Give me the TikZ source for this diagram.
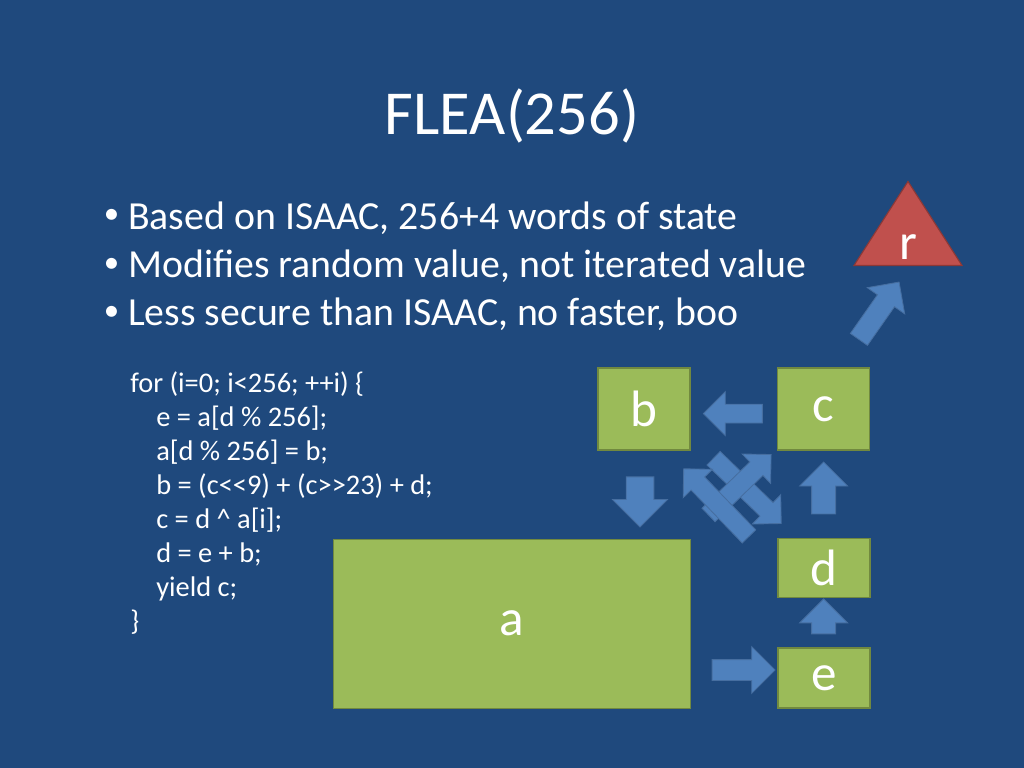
\documentclass[tikz,border=0pt]{standalone}
\usepackage{fontspec}
\setmainfont[Ligatures=TeXOff]{Carlito}
\usetikzlibrary{shapes.geometric,shapes.arrows}

\definecolor{slideblue}{RGB}{31,73,125}
\definecolor{reggreen}{RGB}{155,187,89}
\definecolor{regline}{RGB}{113,137,63}
\definecolor{flowblue}{RGB}{79,129,189}
\definecolor{flowline}{RGB}{70,110,160}
\definecolor{outred}{RGB}{192,80,77}
\definecolor{outline}{RGB}{140,56,54}

\begin{document}
\begin{tikzpicture}[
  ttl/.style={font=\fontsize{44.5}{53}\selectfont, text=white, inner sep=0pt, anchor=base},
  blt/.style={font=\fontsize{28.3}{34}\selectfont, text=white, inner sep=0pt, anchor=base west},
  dot/.style={font=\fontsize{22}{26}\selectfont, text=white, inner sep=0pt},
  code/.style={font=\fontsize{20.2}{24}\selectfont, text=white, inner sep=0pt, anchor=base west},
  reg/.style={rectangle, draw=regline, fill=reggreen, line width=0.8pt, text=white, font=\fontsize{36.4}{44}\selectfont, inner sep=0pt},
  outv/.style={isosceles triangle, shape border rotate=90, isosceles triangle stretches, draw=outline, fill=outred, line width=0.8pt, minimum width=2.7cm, minimum height=2.1cm, inner sep=0pt, anchor=apex},
  flow/.style={single arrow, draw=flowline, fill=flowblue, line width=0.6pt, inner xsep=0pt, single arrow head indent=0pt}
]
\fill[slideblue] (0,0) rectangle (25.6,-19.2);
\useasboundingbox (0,0) rectangle (25.6,-19.2);

\node[ttl] (title) at (12.8,-3.375) {FLEA(256)};

\node[dot] (dot1) at (2.79,-5.417) {•};
\node[dot] (dot2) at (2.79,-6.625) {•};
\node[dot] (dot3) at (2.79,-7.833) {•};
\node[blt] (pt1) at (3.2,-5.75) {Based on ISAAC, 256+4 words of state};
\node[blt] (pt2) at (3.2,-6.95) {Modifies random value, not iterated value};
\node[blt] (pt3) at (3.2,-8.125) {Less secure than ISAAC, no faster, boo};

\node[code] (ln1) at (3.25,-9.8) {for (i=0; i<256; ++i) \{};
\node[code] (ln2) at (3.9,-10.65) {e = a[d \% 256];};
\node[code] (ln3) at (3.9,-11.5) {a[d \% 256] = b;};
\node[code] (ln4) at (3.9,-12.35) {b = (c<\kern0pt<9) + (c>\kern0pt>23) + d;};
\node[code] (ln5) at (3.9,-13.2) {c = d \^{} a[i];};
\node[code] (ln6) at (3.9,-14.05) {d = e + b;};
\node[code] (ln7) at (3.9,-14.9) {yield c;};
\node[code] (ln8) at (3.25,-15.75) {\}};

\node[reg, minimum width=8.925cm, minimum height=4.225cm] (a) at (12.79,-15.59) {a};
\node[reg, minimum width=2.3cm, minimum height=2.05cm] (b) at (16.1,-10.225) {b};
\node[reg, minimum width=2.3cm, minimum height=2.05cm] (c) at (20.59,-10.225) {c};
\node[reg, minimum width=2.3cm, minimum height=1.475cm] (d) at (20.6,-14.19) {d};
\node[reg, minimum width=2.3cm, minimum height=1.5cm] (e) at (20.6,-16.95) {e};

\node[outv] (rtri) at (22.7,-4.5) {};
\node[font=\fontsize{36.4}{44}\selectfont, text=white, inner sep=0pt, anchor=base] (r) at (22.7,-6.5) {r};

\node[flow, rotate=180, minimum height=1.475cm, inner ysep=0.225cm, single arrow head extend=0.3125cm] (cb) at (18.44,-10.34) {};
\node[flow, rotate=-90, minimum height=1.25cm, inner ysep=0.335cm, single arrow head extend=0.34cm] (ba) at (16.0,-12.375) {};
\node[flow, rotate=90, minimum height=1.3cm, inner ysep=0.29cm, single arrow head extend=0.3cm] (dc) at (20.59,-12.35) {};
\node[flow, rotate=90, minimum height=0.875cm, inner ysep=0.29cm, single arrow head extend=0.3cm] (ed) at (20.59,-15.56) {};
\node[flow, minimum height=1.575cm, inner ysep=0.25cm, single arrow head extend=0.325cm] (ae) at (18.46,-16.75) {};
\node[flow, rotate=55, minimum height=1.75cm, inner ysep=0.25cm, single arrow head extend=0.31cm] (cr) at (21.9,-7.875) {};
\node[flow, rotate=-44, minimum height=2.35cm, inner ysep=0.225cm, single arrow head extend=0.275cm] (bd) at (18.6,-12.19) {};
\node[flow, rotate=44, minimum height=2.175cm, inner ysep=0.225cm, single arrow head extend=0.275cm] (ac) at (18.41,-12.2) {};
\node[flow, rotate=134, minimum height=2.35cm, inner ysep=0.225cm, single arrow head extend=0.275cm] (db) at (17.99,-12.65) {};

\end{tikzpicture}
\end{document}
